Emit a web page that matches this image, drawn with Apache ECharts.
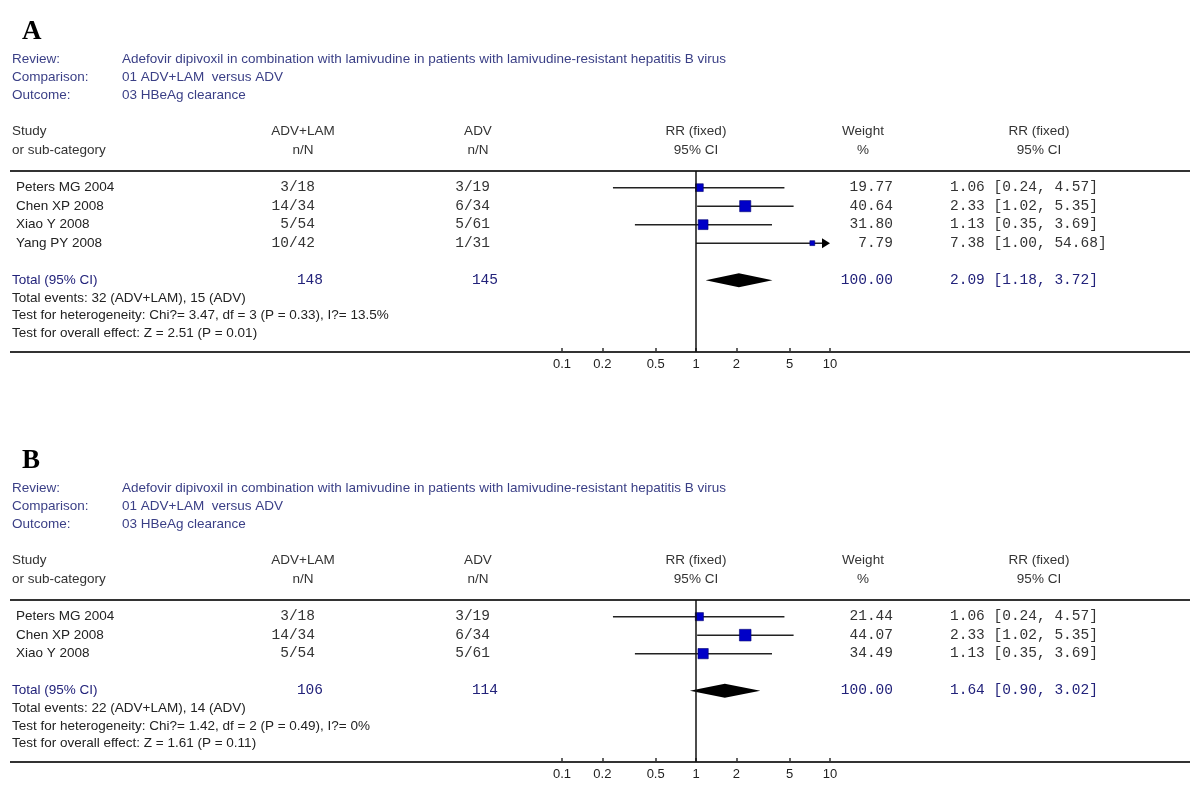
<!DOCTYPE html>
<html><head><meta charset="utf-8">
<script src="https://cdn.jsdelivr.net/npm/echarts@6/dist/echarts.min.js"></script>
<style>html,body{margin:0;padding:0;background:#fff}#c{width:1200px;height:810px}</style>
</head><body><div id="c"></div>
<script>
// ---------- data ----------
const metaLabels = ['Review:', 'Comparison:', 'Outcome:'];
const metaValues = ['Adefovir dipivoxil in combination with lamivudine in patients with lamivudine-resistant hepatitis B virus',
                    '01 ADV+LAM  versus ADV', '03 HBeAg clearance'];
const colHead1 = ['Study', 'ADV+LAM', 'ADV', 'RR (fixed)', 'Weight', 'RR (fixed)'];
const colHead2 = ['or sub-category', 'n/N', 'n/N', '95% CI', '%', '95% CI'];
const tickValues = [0.1, 0.2, 0.5, 1, 2, 5, 10];

const studiesA = ['Peters MG 2004', 'Chen XP 2008', 'Xiao Y 2008', 'Yang PY 2008'];
const expA  = ['3/18', '14/34', '5/54', '10/42'];
const ctrlA = ['3/19', '6/34', '5/61', '1/31'];
const rrA   = [1.06, 2.33, 1.13, 7.38];
const lowA  = [0.24, 1.02, 0.35, 1.00];
const highA = [4.57, 5.35, 3.69, 54.68];
const weightA = [19.77, 40.64, 31.80, 7.79];
const totalNA = ['148', '145'];
const totalRRA = [2.09, 1.18, 3.72];
const footA = ['Total events: 32 (ADV+LAM), 15 (ADV)',
               'Test for heterogeneity: Chi?= 3.47, df = 3 (P = 0.33), I?= 13.5%',
               'Test for overall effect: Z = 2.51 (P = 0.01)'];

const studiesB = ['Peters MG 2004', 'Chen XP 2008', 'Xiao Y 2008'];
const expB  = ['3/18', '14/34', '5/54'];
const ctrlB = ['3/19', '6/34', '5/61'];
const rrB   = [1.06, 2.33, 1.13];
const lowB  = [0.24, 1.02, 0.35];
const highB = [4.57, 5.35, 3.69];
const weightB = [21.44, 44.07, 34.49];
const totalNB = ['106', '114'];
const totalRRB = [1.64, 0.90, 3.02];
const footB = ['Total events: 22 (ADV+LAM), 14 (ADV)',
               'Test for heterogeneity: Chi?= 1.42, df = 2 (P = 0.49), I?= 0%',
               'Test for overall effect: Z = 1.61 (P = 0.11)'];

// ---------- layout ----------
const SANS = 'Liberation Sans, Arial, sans-serif';
const MONO = 'Liberation Mono, Courier New, monospace';
const ROW = 18.5, Y0 = -0.9;
const X_MIN = 0.1, X_MAX = 10;
const C = { meta: '#3a3f86', head: '#333333', name: '#222222', mono: '#333333', total: '#22227a', foot: '#222222' };

const panels = [
  { letter: 'A', top: 171, height: 181, studies: studiesA, exp: expA, ctrl: ctrlA, rr: rrA, low: lowA, high: highA,
    w: weightA, totalN: totalNA, totalRR: totalRRA, foot: footA },
  { letter: 'B', top: 600, height: 162, studies: studiesB, exp: expB, ctrl: ctrlB, rr: rrB, low: lowB, high: highB,
    w: weightB, totalN: totalNB, totalRR: totalRRB, foot: footB }
];

const fmt2 = v => v.toFixed(2);
const ciText = (r, l, h) => `${fmt2(r)} [${fmt2(l)}, ${fmt2(h)}]`;

function txt(x, y, text, opt) {
  return { type: 'text', x, y, silent: true,
    style: Object.assign({ text, font: '13.5px ' + SANS, fill: C.head, align: 'left', verticalAlign: 'middle' }, opt || {}) };
}

const grids = [], xAxes = [], yAxes = [], series = [], graphics = [];

panels.forEach((p, pi) => {
  const n = p.studies.length;
  const totalRow = n + 1;
  const yMax = Y0 + p.height / ROW;
  grids.push({ left: 562, width: 268, top: p.top, height: p.height });
  xAxes.push({
    type: 'log', logBase: 10, gridIndex: pi, min: X_MIN, max: X_MAX, position: 'bottom',
    axisLine: { show: false, onZero: false }, splitLine: { show: false },
    axisTick: { show: true, customValues: tickValues, length: 4, inside: true, lineStyle: { color: '#333', width: 1.5 } },
    axisLabel: { show: true, customValues: tickValues, margin: 6, color: '#222', fontFamily: SANS, fontSize: 13,
      formatter: v => String(+(+v).toPrecision(3)) }
  });
  yAxes.push({ type: 'value', gridIndex: pi, inverse: true, min: Y0, max: yMax, show: false });

  // table text rows
  const rows = p.studies.map((s, i) => [1, i, i]);
  rows.push([1, totalRow, -1]);
  series.push({
    type: 'custom', name: 'table' + p.letter, xAxisIndex: pi, yAxisIndex: pi, silent: true, clip: false,
    data: rows,
    renderItem: (params, api) => {
      const idx = api.value(2);
      const y = api.coord([1, api.value(1)])[1];
      const mono = (x, t, col, align) => ({ type: 'text', x, y, silent: true,
        style: { text: t, font: '14.5px ' + MONO, fill: col, align: align, verticalAlign: 'middle' } });
      if (idx >= 0) {
        return { type: 'group', children: [
          txt(16, y, p.studies[idx], { fill: C.name }),
          mono(315, p.exp[idx], C.mono, 'right'),
          mono(490, p.ctrl[idx], C.mono, 'right'),
          mono(893, fmt2(p.w[idx]), C.mono, 'right'),
          mono(950, ciText(p.rr[idx], p.low[idx], p.high[idx]), C.mono, 'left')
        ]};
      }
      const wsum = p.w.reduce((a, b) => a + b, 0);
      return { type: 'group', children: [
        txt(12, y, 'Total (95% CI)', { fill: C.total }),
        mono(323, p.totalN[0], C.total, 'right'),
        mono(498, p.totalN[1], C.total, 'right'),
        mono(893, fmt2(wsum), C.total, 'right'),
        mono(950, ciText(p.totalRR[0], p.totalRR[1], p.totalRR[2]), C.total, 'left')
      ]};
    }
  });

  // study CI lines + squares
  series.push({
    type: 'custom', name: 'studies' + p.letter, xAxisIndex: pi, yAxisIndex: pi, silent: true, clip: false,
    data: p.rr.map((r, i) => [r, i, p.low[i], p.high[i], p.w[i]]),
    renderItem: (params, api) => {
      const r = api.value(0), row = api.value(1), lo = api.value(2), hi = api.value(3), w = api.value(4);
      const y = api.coord([1, row])[1];
      const xl = api.coord([Math.max(lo, X_MIN), row])[0];
      const xr = api.coord([Math.min(hi, X_MAX), row])[0];
      const xc = api.coord([r, row])[0];
      const s = 1.75 * Math.sqrt(w);
      const ch = [];
      ch.push({ type: 'line', shape: { x1: xl, y1: y, x2: hi > X_MAX ? xr - 6 : xr, y2: y }, style: { stroke: '#222', lineWidth: 1.5 } });
      if (hi > X_MAX) {
        ch.push({ type: 'polygon', shape: { points: [[xr, y], [xr - 8, y - 5], [xr - 8, y + 5]] }, style: { fill: '#000' } });
      }
      ch.push({ type: 'rect', shape: { x: xc - s / 2, y: y - s / 2, width: s, height: s },
        style: { fill: '#0000c8', stroke: '#00006e', lineWidth: 0.6 } });
      return { type: 'group', children: ch };
    },
    markLine: { silent: true, symbol: 'none', label: { show: false },
      lineStyle: { color: '#111', width: 1.5, type: 'solid' }, data: [{ xAxis: 1 }] }
  });

  // pooled diamond
  series.push({
    type: 'custom', name: 'total' + p.letter, xAxisIndex: pi, yAxisIndex: pi, silent: true, clip: false,
    data: [[p.totalRR[0], totalRow, p.totalRR[1], p.totalRR[2]]],
    renderItem: (params, api) => {
      const row = api.value(1);
      const y = api.coord([1, row])[1];
      const xc = api.coord([api.value(0), row])[0];
      const xl = api.coord([api.value(2), row])[0];
      const xr = api.coord([api.value(3), row])[0];
      return { type: 'polygon', shape: { points: [[xl, y], [xc, y - 7], [xr, y], [xc, y + 7]] }, style: { fill: '#000' } };
    }
  });

  // graphics: letter, meta, headers, rules, footnotes
  const t = p.top;
  graphics.push({ type: 'text', x: 22, y: t - 139, silent: true,
    style: { text: p.letter, font: 'bold 27px Liberation Serif, Times New Roman, serif', fill: '#000', verticalAlign: 'middle' } });
  metaLabels.forEach((m, i) => {
    graphics.push(txt(12, t - 112 + i * 18, m, { fill: C.meta }));
    graphics.push(txt(122, t - 112 + i * 18, metaValues[i], { fill: C.meta }));
  });
  const hx = [12, 303, 478, 696, 863, 1039];
  colHead1.forEach((h, i) => {
    graphics.push(txt(hx[i], t - 40, h, { align: i === 0 ? 'left' : 'center' }));
    graphics.push(txt(hx[i], t - 21, colHead2[i], { align: i === 0 ? 'left' : 'center' }));
  });
  graphics.push({ type: 'line', silent: true, shape: { x1: 10, y1: t, x2: 1190, y2: t }, style: { stroke: '#333', lineWidth: 2 } });
  graphics.push({ type: 'line', silent: true, shape: { x1: 10, y1: t + p.height, x2: 1190, y2: t + p.height }, style: { stroke: '#333', lineWidth: 2 } });
  const totalY = t + (totalRow - Y0) * ROW;
  p.foot.forEach((f, i) => graphics.push(txt(12, totalY + (i + 1) * 17.7, f, { fill: C.foot })));
});

const chart = echarts.init(document.getElementById('c'));
chart.setOption({
  animation: false,
  backgroundColor: '#fff',
  grid: grids, xAxis: xAxes, yAxis: yAxes, series: series,
  graphic: { elements: graphics }
});
</script></body></html>
